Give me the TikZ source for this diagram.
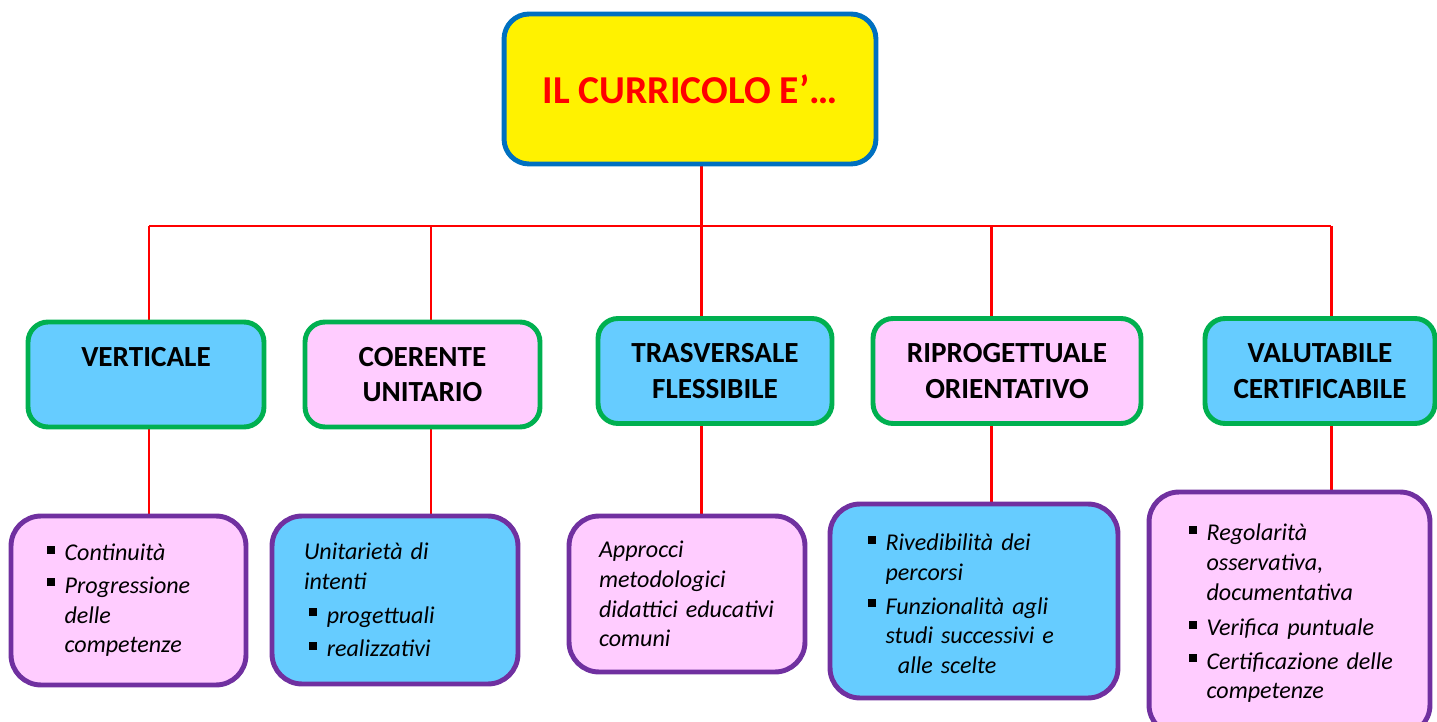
\documentclass[tikz,border=0pt]{standalone}
\usepackage{fontspec}
\setmainfont{Carlito}
\usetikzlibrary{positioning, backgrounds}
\definecolor{boxblue}{HTML}{66CCFF}
\definecolor{boxpink}{HTML}{FFCCFF}
\definecolor{edgegreen}{HTML}{00B050}
\definecolor{edgepurple}{HTML}{7030A0}
\definecolor{titleblue}{HTML}{0070C0}
\newcommand{\blt}{\makebox[10pt][l]{\rule[4pt]{4.5pt}{4.5pt}}}
\newcommand{\ind}{\hspace*{10pt}}
\tikzset{
    title/.style={
           rectangle,
           rounded corners=0.5cm,
           draw=titleblue, line width=2.8pt,
           fill=yellow, text=red,
           minimum width=7.44cm, minimum height=3cm,
           font=\fontsize{22.5}{27}\selectfont\bfseries,
           },
    topic/.style={
           rectangle,
           rounded corners=0.4cm,
           draw=edgegreen, line width=2.8pt,
           minimum height=2.1cm,
           align=center,
           font=\fontsize{16.6}{20.4}\selectfont\bfseries,
           },
    detail/.style={
           rectangle,
           rounded corners=0.6cm,
           draw=edgepurple, line width=2.8pt,
           align=left,
           font=\fontsize{13.7}{17}\selectfont\itshape,
           },
    link/.style={red, line width=1.7pt},
}

\begin{document}
\begin{tikzpicture}[x=0.02cm, y=-0.02cm]
  \useasboundingbox (0,0) rectangle (1437,722);
  \clip (0,0) rectangle (1437,722);

  \node[title] (curr) at (690,89) {\raisebox{-2pt}{IL CURRICOLO E’…}};

% second row
  \node[topic, fill=boxblue, minimum width=4.72cm]  (vert)   at (146,374.5)  {VERTICALE\\ \mbox{}};
  \node[topic, fill=boxpink, minimum width=4.7cm]   (coer)   at (422.5,374.5) {COERENTE\\UNITARIO};
  \node[topic, fill=boxblue, minimum width=4.68cm]  (trasv)  at (715,371)    {TRASVERSALE\\FLESSIBILE};
  \node[topic, fill=boxpink, minimum width=5.36cm]  (riprog) at (1007,371)   {RIPROGETTUALE\\ORIENTATIVO};
  \node[topic, fill=boxblue, minimum width=4.6cm]   (valut)  at (1320,371)   {VALUTABILE\\CERTIFICABILE};

% third row
  \node[detail, fill=boxpink, minimum width=4.7cm, minimum height=3.38cm,
        inner xsep=0.72cm, text width=3.26cm] (cont) at (128.5,600.5)
        {\blt Continuità\\[1.5pt] \blt Progressione\\ \ind delle\\ \ind competenze};
  \node[detail, fill=boxblue, minimum width=4.92cm, minimum height=3.36cm,
        inner xsep=0.64cm, text width=3.64cm] (unit) at (395,600)
        {Unitarietà di\\ intenti\\[2pt] \hspace*{3pt}\blt progettuali\\[2pt] \hspace*{3pt}\blt realizzativi};
  \node[detail, fill=boxpink, minimum width=4.72cm, minimum height=3.12cm,
        inner xsep=0.6cm, text width=3.52cm] (appr) at (687,594)
        {Approcci\\ metodologici\\ \mbox{didattici educativi}\\ comuni};
  \node[detail, fill=boxblue, minimum width=5.76cm, minimum height=3.88cm,
        inner xsep=0.76cm, text width=4.24cm] (rived) at (974,601)
        {\raisebox{0pt}[13pt]{}\blt Rivedibilità dei\\ \ind percorsi\\[2pt] \blt Funzionalità agli\\ \ind \mbox{studi successivi e}\\ \ind\hspace*{7pt}alle scelte};
  \node[detail, fill=boxpink, minimum width=5.62cm, minimum height=4.86cm,
        inner xsep=0.8cm, text width=4.02cm] (regol) at (1289.5,613.5)
        {\blt Regolarità\\ \ind osservativa,\\ \ind documentativa\\[3pt] \blt Verifica puntuale\\[2pt] \blt \mbox{Certificazione delle}\\ \ind competenze};

% red tree lines
  \begin{pgfonlayer}{background}
    \coordinate (j1) at (149,226);
    \coordinate (j2) at (431,226);
    \coordinate (j3) at (701,226);
    \coordinate (j4) at (991,226);
    \coordinate (j5) at (1331,226);
    \draw[link] (curr.south -| j3) -- (j3);
    \draw[link] (j1) -- (j5);
    \foreach \j/\m/\b in {j1/vert/cont, j2/coer/unit, j3/trasv/appr, j4/riprog/rived, j5/valut/regol}{
      \draw[link] (\j) -- (\j |- \m.north);
      \draw[link] (\m.south -| \j) -- (\b.north -| \j);
    }
  \end{pgfonlayer}
\end{tikzpicture}
\end{document}
